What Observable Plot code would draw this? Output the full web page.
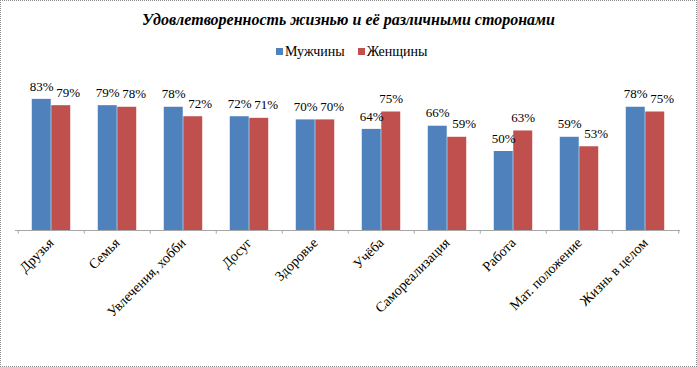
<!DOCTYPE html>
<html><head><meta charset="utf-8">
<script src="https://cdn.jsdelivr.net/npm/d3@7"></script>
<script src="https://cdn.jsdelivr.net/npm/@observablehq/plot@0.6"></script>
<style>
body{margin:0;background:#fff}
#chart{position:relative;width:697px;height:367px;font-family:"Liberation Serif","Times New Roman",serif;overflow:hidden;background:#fff}
#frame{position:absolute;left:0;top:0;width:697px;height:367px;box-sizing:border-box;border:1px dotted #8a8a8a;pointer-events:none}
#title{position:absolute;left:0;width:697px;top:11px;text-align:center;font-weight:bold;font-style:italic;font-size:16px;color:#000;z-index:2}
#legend{position:absolute;top:44px;left:276px;font-size:14px;color:#000;z-index:2;white-space:nowrap}
#legend .sw{display:inline-block;width:7px;height:7px;margin-right:2px;vertical-align:1px}
#legend .item{margin-right:13px}
#plot{position:absolute;left:0;top:0}
</style>
</head><body>
<div id="chart">
  <div id="title"></div>
  <div id="legend"></div>
  <div id="plot"></div>
  <div id="frame"></div>
</div>
<script>
const titleText = "Удовлетворенность жизнью и её различными сторонами";
const seriesNames = ["Мужчины", "Женщины"];
const seriesColors = ["#4F81BD", "#C0504D"];
const categories = ["Друзья","Семья","Увлечения, хобби","Досуг","Здоровье","Учёба","Самореализация","Работа","Мат. положение","Жизнь в целом"];
const men =   [83, 79, 78, 72, 70, 64, 66, 50, 59, 78];
const women = [79, 78, 72, 71, 70, 75, 59, 63, 53, 75];

document.getElementById("title").textContent = titleText;
const leg = document.getElementById("legend");
seriesNames.forEach((n, i) => {
  const s = document.createElement("span");
  s.className = "item";
  s.innerHTML = `<span class="sw" style="background:${seriesColors[i]}"></span>${n}`;
  leg.appendChild(s);
});

const W = 697, H = 367, mL = 15, mR = 17, mT = 72, mB = 137;
const band = (W - mL - mR) / categories.length;
const barW = band * 0.293;
const inset = (band - barW) / 2;
const off = barW / 2;
const pxPerUnit = (H - mT - mB) / 100;
// Excel-like label collision avoidance: push the right label aside when both sit at about the same height
const rows = categories.map((c, i) => ({
  c, m: men[i], w: women[i],
  shift: Math.abs(men[i] - women[i]) * pxPerUnit < 13 ? 7 : 0
}));

const chart = Plot.plot({
  width: W, height: H,
  marginTop: mT, marginBottom: mB, marginLeft: mL, marginRight: mR,
  style: {fontFamily: '"Liberation Serif","Times New Roman",serif', fontSize: "14px", color: "#000", background: "transparent"},
  x: {domain: categories, padding: 0, tickRotate: -45, tickSize: 0, tickPadding: 10, label: null},
  y: {domain: [0, 100], axis: null},
  marks: [
    Plot.barY(rows, {x: "c", y: "m", fill: seriesColors[0], insetLeft: inset, insetRight: inset, dx: -off}),
    Plot.barY(rows, {x: "c", y: "w", fill: seriesColors[1], insetLeft: inset, insetRight: inset, dx: off}),
    Plot.ruleY([0], {stroke: "#a6a6a6"}),
    Plot.ruleX(rows, {x: "c", y1: 0, y2: -2.3, dx: -band / 2, stroke: "#a6a6a6"}),
    Plot.ruleX(rows.slice(-1), {x: "c", y1: 0, y2: -2.3, dx: band / 2, stroke: "#a6a6a6"}),
    Plot.text(rows, {x: "c", y: "m", text: d => d.m + "%", dx: -off, dy: -13, fontSize: 13, fill: "#000"}),
    Plot.text(rows.filter(d => d.shift === 0), {x: "c", y: "w", text: d => d.w + "%", dx: off, dy: -13, fontSize: 13, fill: "#000"}),
    Plot.text(rows.filter(d => d.shift !== 0), {x: "c", y: "w", text: d => d.w + "%", dx: off + 7, dy: -13, fontSize: 13, fill: "#000"})
  ]
});
document.getElementById("plot").appendChild(chart);
</script>
</body></html>
